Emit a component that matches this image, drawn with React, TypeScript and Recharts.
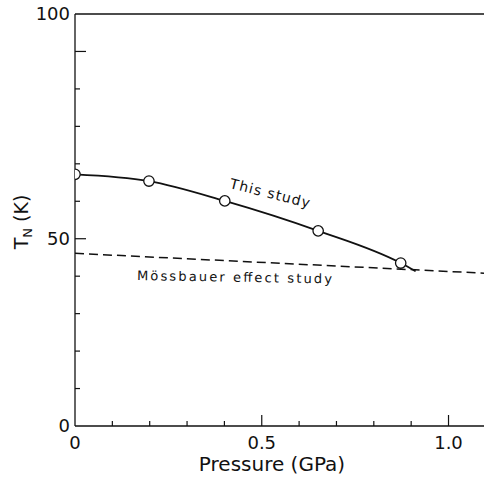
import {
  ComposedChart,
  Line,
  Scatter,
  XAxis,
  YAxis,
  ReferenceLine,
  Customized,
} from 'recharts';

// pressure (GPa) / Neel temperature (K)
const thisStudyPoints = [
  { p: 0, t: 67.2 },
  { p: 0.198, t: 65.4 },
  { p: 0.401, t: 60.1 },
  { p: 0.651, t: 52.1 },
  { p: 0.872, t: 43.5 },
];
// fitted curve runs a bit past the last point
const thisStudyCurve = [...thisStudyPoints, { p: 0.912, t: 41.3 }];

const mossbauerLine = [
  { p: 0, t: 46.1 },
  { p: 1.095, t: 40.8 },
];

const xTicks = [0, 0.1, 0.2, 0.3, 0.4, 0.5, 0.6, 0.7, 0.8, 0.9, 1.0];
const xLabels: Record<string, string> = { '0': '0', '0.5': '0.5', '1': '1.0' };
const yTicks = [0, 10, 20, 30, 40, 50, 60, 70, 80, 90, 100, 110];
const yLabels: Record<string, string> = { '0': '0', '50': '50', '110': '100' };

const FONT = '"DejaVu Sans", sans-serif';
const INK = '#111';

const YTick = (props: any) => {
  const { x, y, payload } = props;
  const v = payload.value;
  const major = v === 50 || v === 100;
  const label = yLabels[String(v)];
  return (
    <g>
      {v !== 0 && v !== 110 && (
        <line x1={x} x2={x + (major ? 11 : 5)} y1={y} y2={y} stroke={INK} strokeWidth={1.2} />
      )}
      {label && (
        <text x={x - 5} y={y} dy={6} textAnchor="end" fontSize={18} fontFamily={FONT} fill={INK}>
          {label}
        </text>
      )}
    </g>
  );
};

const XTick = (props: any) => {
  const { x, y, payload } = props;
  const v = Math.round(payload.value * 10) / 10;
  const major = v === 0.5 || v === 1;
  const label = xLabels[String(v)];
  return (
    <g>
      {v !== 0 && (
        <line x1={x} x2={x} y1={y} y2={y - (major ? 11 : 5)} stroke={INK} strokeWidth={1.2} />
      )}
      {label && (
        <text x={x} y={y} dy={23} textAnchor="middle" fontSize={18} fontFamily={FONT} fill={INK}>
          {label}
        </text>
      )}
    </g>
  );
};

const Notes = () => (
  <g fontFamily={FONT} fill={INK}>
    <text
      x={229}
      y={188}
      fontSize={14}
      textLength={82}
      transform="rotate(14 229 188)"
    >
      This study
    </text>
    <text x={137} y={280} fontSize={13} textLength={195} transform="rotate(1 137 280)">
      Mössbauer effect study
    </text>
    <text x={272} y={471} fontSize={20} textAnchor="middle">
      Pressure (GPa)
    </text>
    <text x={28} y={222} fontSize={19} textAnchor="middle" transform="rotate(-90 28 222)">
      T<tspan fontSize={13} dy={4}>N</tspan>
      <tspan dy={-4}> (K)</tspan>
    </text>
  </g>
);

const Ring = (props: any) => {
  const { cx, cy } = props;
  return <circle cx={cx} cy={cy} r={5.2} fill="#fff" stroke={INK} strokeWidth={1.3} />;
};

export default function App() {
  return (
    <div style={{ position: 'absolute', left: 0, top: 0, background: '#fff' }}>
      <ComposedChart width={484} height={478} margin={{ top: 14, right: 0, bottom: 0, left: 15 }}>
        <XAxis
          dataKey="p"
          type="number"
          domain={[0, 1.095]}
          ticks={xTicks}
          allowDataOverflow
          height={52}
          tickSize={0}
          tickMargin={0}
          tickLine={false}
          tick={<XTick />}
          axisLine={{ stroke: INK, strokeWidth: 1.3 }}
          interval={0}
        />
        <YAxis
          type="number"
          domain={[0, 110]}
          ticks={yTicks}
          width={60}
          tickSize={0}
          tickMargin={0}
          tickLine={false}
          tick={<YTick />}
          axisLine={{ stroke: INK, strokeWidth: 1.3 }}
          interval={0}
        />
        <ReferenceLine y={110} stroke={INK} strokeWidth={1.3} />
        <Line
          data={mossbauerLine}
          dataKey="t"
          type="linear"
          stroke={INK}
          strokeWidth={1.5}
          strokeDasharray="9 5"
          dot={false}
          isAnimationActive={false}
        />
        <Line
          data={thisStudyCurve}
          dataKey="t"
          type="monotone"
          stroke={INK}
          strokeWidth={1.8}
          dot={false}
          isAnimationActive={false}
        />
        <Scatter data={thisStudyPoints} dataKey="t" shape={<Ring />} isAnimationActive={false} />
        <Customized component={Notes} />
      </ComposedChart>
    </div>
  );
}
